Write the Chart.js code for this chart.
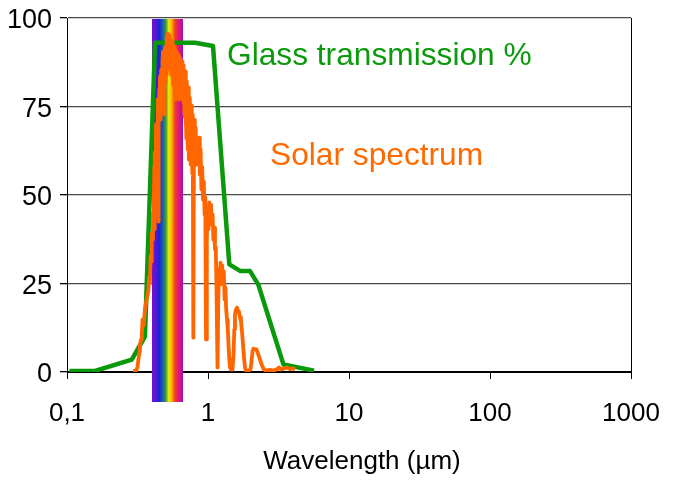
<!DOCTYPE html>
<html>
<head>
<meta charset="utf-8">
<script src="https://cdn.jsdelivr.net/npm/chart.js@4.4.1/dist/chart.umd.min.js"></script>
<style>
  html, body { margin: 0; padding: 0; background: #fff; }
  canvas { display: block; }
</style>
</head>
<body>
<canvas id="chart" width="674" height="484"></canvas>
<script>
// Axis ticks
const xTicks = [0.1, 1, 10, 100, 1000];
const yTicks = [0, 25, 50, 75, 100];

// Glass transmission (%) against wavelength (µm)
const glassWavelength = [0.104, 0.158, 0.288, 0.357, 0.421, 0.809, 1.085, 1.416, 1.700, 1.986, 2.274, 3.432, 5.65];
const glassTransmission = [0.3, 0.3, 3.5, 10.0, 93.0, 93.0, 92.1, 30.4, 28.5, 28.5, 24.7, 2.1, 0.4];

// Solar spectrum at ground level (relative units) against wavelength (µm)
const solarWavelength = [
  0.294, 0.309, 0.316, 0.321, 0.327, 0.329, 0.335, 0.339, 0.343, 0.349,
  0.357, 0.363, 0.367, 0.372, 0.377, 0.382, 0.387, 0.392, 0.396, 0.399,
  0.404, 0.407, 0.409, 0.412, 0.414, 0.416, 0.418, 0.420, 0.422, 0.424,
  0.426, 0.428, 0.431, 0.433, 0.436, 0.438, 0.441, 0.443, 0.446, 0.448,
  0.451, 0.454, 0.457, 0.459, 0.462, 0.464, 0.467, 0.470, 0.473, 0.476,
  0.480, 0.483, 0.486, 0.488, 0.491, 0.494, 0.496, 0.499, 0.502, 0.505,
  0.508, 0.511, 0.514, 0.517, 0.520, 0.523, 0.527, 0.530, 0.533, 0.536,
  0.539, 0.542, 0.545, 0.548, 0.552, 0.555, 0.558, 0.561, 0.565, 0.567,
  0.570, 0.574, 0.578, 0.580, 0.583, 0.586, 0.590, 0.593, 0.597, 0.601,
  0.605, 0.609, 0.613, 0.616, 0.619, 0.622, 0.626, 0.629, 0.633, 0.636,
  0.640, 0.644, 0.649, 0.652, 0.656, 0.660, 0.665, 0.669, 0.674, 0.678,
  0.682, 0.686, 0.690, 0.694, 0.698, 0.702, 0.707, 0.712, 0.717, 0.721,
  0.725, 0.729, 0.733, 0.738, 0.743, 0.747, 0.752, 0.756, 0.761, 0.765,
  0.770, 0.774, 0.779,
  0.787, 0.796, 0.806, 0.817, 0.827, 0.838, 0.852, 0.864, 0.875, 0.886,
  0.898, 0.910, 0.922, 0.934, 0.946, 0.957, 0.968, 0.981, 0.994, 1.008,
  1.022, 1.037, 1.050, 1.064, 1.078, 1.092, 1.107, 1.121, 1.136, 1.149,
  1.168, 1.183, 1.197, 1.213, 1.227, 1.243, 1.261, 1.278, 1.294, 1.311,
  1.329, 1.346, 1.364, 1.382, 1.398, 1.416, 1.432, 1.456, 1.492, 1.517,
  1.537, 1.554, 1.580, 1.606, 1.633, 1.659, 1.687, 1.714, 1.742, 1.771,
  1.800, 1.830, 1.860, 1.938, 2.002, 2.035, 2.069, 2.103, 2.154, 2.208,
  2.263, 2.338, 2.416, 2.496, 2.578, 2.753, 2.938, 3.087, 3.188, 3.294,
  3.459, 3.634, 3.816, 4.007, 4.140
];
const solarIntensity = [
  0.3, 0.3, 1.3, 3.5, 5.8, 7.5, 9.2, 10.3, 14.8, 13.1,
  17.7, 19.4, 20.5, 21.6, 22.7, 26.7, 25.0, 32.9, 31.2, 39.1,
  37.4, 45.0, 42.5, 52.0, 48.7, 58.0, 40.3, 62.0, 60.0, 52.0,
  55.8, 70.0, 68.5, 58.0, 64.3, 74.0, 77.0, 66.0, 42.5, 70.0,
  79.8, 76.0, 83.5, 74.0, 71.3, 82.0, 85.5, 76.0, 78.4, 88.0,
  90.5, 80.0, 84.0, 76.0, 72.7, 88.0, 91.7, 82.0, 87.7, 92.0,
  94.5, 84.0, 89.7, 93.0, 95.6, 86.0, 91.7, 88.0, 95.1, 90.0,
  85.5, 92.0, 93.9, 84.0, 90.5, 86.0, 93.4, 88.0, 81.2, 89.0,
  92.2, 84.0, 88.8, 82.0, 91.9, 85.0, 77.0, 86.0, 90.5, 82.0,
  87.1, 80.0, 89.7, 84.0, 77.5, 85.0, 88.8, 82.0, 77.0, 84.0,
  88.3, 80.0, 84.9, 78.0, 87.7, 79.0, 82.6, 76.0, 86.6, 74.0,
  79.8, 72.0, 84.9, 70.0, 74.2, 66.0, 82.1, 68.0, 62.9, 72.0,
  80.4, 66.0, 60.0, 70.0, 77.5, 64.0, 58.6, 68.0, 75.3, 62.0,
  62.9, 56.0, 72.7,
  9.7, 71.3, 61.4, 69.1, 58.6, 65.7, 60.0, 66.2, 55.8, 62.9,
  51.6, 57.8, 48.7, 53.8, 44.5, 49.3, 9.2, 37.4, 45.9, 40.3,
  47.9, 43.1, 47.3, 41.7, 44.5, 37.4, 40.8, 34.6, 35.2, 23.3,
  1.3, 20.5, 29.0, 24.7, 30.9, 27.5, 30.1, 24.7, 28.4, 20.5,
  23.9, 17.7, 14.8, 12.0, 7.8, 3.5, 1.3, 0.7, 0.7, 4.9,
  12.0, 16.2, 17.7, 18.2, 17.1, 16.8, 15.4, 14.3, 11.4, 7.8,
  4.1, 1.3, 0.4, 0.4, 0.7, 3.0, 5.8, 6.6, 6.4, 6.4,
  5.2, 3.5, 1.8, 0.7, 0.4, 0.6, 0.4, 0.8, 1.3, 0.7,
  1.0, 1.3, 0.8, 1.0, 0.7
];

// Visible light band (µm)
const visibleBand = [0.4, 0.66];

const FONT = "'Liberation Sans', Arial, Helvetica, sans-serif";
const GREEN = '#0a990a';
const ORANGE = '#ff6600';

const toPoints = (xs, ys) => xs.map((x, i) => ({ x: x, y: ys[i] }));

// Rainbow strip for the visible range, drawn behind the curves
const visibleBandPlugin = {
  id: 'visibleBand',
  beforeDatasetsDraw(chart, args, opts) {
    const { ctx, chartArea, scales } = chart;
    const x0 = Math.round(scales.x.getPixelForValue(visibleBand[0]));
    const x1 = Math.round(scales.x.getPixelForValue(visibleBand[1]));
    const top = chartArea.top + 1;
    const bottom = chartArea.bottom + opts.extendBelow;
    const g = ctx.createLinearGradient(x0, 0, x1, 0);
    [
      [0.00, '#7a10c8'], [0.12, '#5418d8'], [0.24, '#1a26d6'],
      [0.36, '#1a68a8'], [0.45, '#3c9c3c'], [0.54, '#eeee00'],
      [0.64, '#f8ac00'], [0.74, '#f04020'], [0.86, '#e0187a'],
      [1.00, '#a010b8']
    ].forEach(([p, c]) => g.addColorStop(p, c));
    ctx.save();
    ctx.fillStyle = g;
    ctx.fillRect(x0, top, x1 - x0, bottom - top);
    ctx.restore();
  }
};

// Right-hand frame edge of the plot
const frameEdgePlugin = {
  id: 'frameEdge',
  beforeDatasetsDraw(chart) {
    const { ctx, chartArea } = chart;
    ctx.save();
    ctx.strokeStyle = '#000';
    ctx.lineWidth = 1;
    ctx.beginPath();
    ctx.moveTo(Math.round(chartArea.right) + 0.5, chartArea.top);
    ctx.lineTo(Math.round(chartArea.right) + 0.5, chartArea.bottom + 1);
    ctx.stroke();
    ctx.restore();
  }
};

// Series names written inside the plot
const seriesNamePlugin = {
  id: 'seriesNames',
  afterDatasetsDraw(chart, args, opts) {
    const { ctx, scales } = chart;
    ctx.save();
    ctx.font = '31.7px ' + FONT;
    ctx.textAlign = 'left';
    ctx.textBaseline = 'alphabetic';
    opts.items.forEach(item => {
      ctx.fillStyle = item.color;
      ctx.fillText(item.text, scales.x.getPixelForValue(item.x), scales.y.getPixelForValue(item.y));
    });
    ctx.restore();
  }
};

// Horizontal axis title
const axisTitlePlugin = {
  id: 'axisTitle',
  afterDraw(chart, args, opts) {
    const { ctx, chartArea } = chart;
    ctx.save();
    ctx.font = '26px ' + FONT;
    ctx.fillStyle = '#000';
    ctx.textAlign = 'center';
    ctx.textBaseline = 'alphabetic';
    ctx.fillText(opts.text, (chartArea.left + chartArea.right) / 2 + opts.shiftX, chartArea.bottom + opts.offsetY);
    ctx.restore();
  }
};

new Chart(document.getElementById('chart'), {
  type: 'line',
  data: {
    datasets: [
      {
        label: 'Solar spectrum',
        data: toPoints(solarWavelength, solarIntensity),
        borderColor: ORANGE,
        borderWidth: 3.8,
        borderJoinStyle: 'round',
        pointRadius: 0,
        tension: 0,
        fill: false
      },
      {
        label: 'Glass transmission %',
        data: toPoints(glassWavelength, glassTransmission),
        borderColor: GREEN,
        borderWidth: 4.5,
        borderJoinStyle: 'round',
        pointRadius: 0,
        tension: 0,
        fill: false
      }
    ]
  },
  options: {
    responsive: false,
    animation: false,
    devicePixelRatio: 1,
    layout: { autoPadding: false, padding: { top: 18, right: 43, left: 0, bottom: 0 } },
    plugins: {
      legend: { display: false },
      tooltip: { enabled: false },
      visibleBand: { extendBelow: 30 },
      seriesNames: {
        items: [
          { text: 'Glass transmission %', x: 1.364, y: 86.6, color: '#0b9a0b' },
          { text: 'Solar spectrum', x: 2.753, y: 58.6, color: '#ff6a00' }
        ]
      },
      axisTitle: { text: 'Wavelength (µm)', shiftX: 13, offsetY: 97 }
    },
    scales: {
      x: {
        type: 'logarithmic',
        min: xTicks[0],
        max: xTicks[xTicks.length - 1],
        afterBuildTicks: s => { s.ticks = xTicks.map(v => ({ value: v })); },
        afterFit: s => {
          s.height = 112;
          s.paddingLeft = 0; s.paddingRight = 0; s.paddingTop = 0; s.paddingBottom = 0;
        },
        ticks: {
          autoSkip: false,
          maxRotation: 0,
          padding: 19,
          color: '#000',
          font: { family: FONT, size: 26 },
          callback: v => String(v).replace('.', ',')
        },
        grid: { drawOnChartArea: false, drawTicks: true, tickLength: 7, color: '#000', tickColor: '#000' },
        border: { color: '#000', width: 1 }
      },
      y: {
        type: 'linear',
        min: yTicks[0],
        max: yTicks[yTicks.length - 1],
        afterBuildTicks: s => { s.ticks = yTicks.map(v => ({ value: v })); },
        afterFit: s => {
          s.width = 67;
          s.paddingLeft = 0; s.paddingRight = 0; s.paddingTop = 0; s.paddingBottom = 0;
        },
        ticks: {
          padding: 8,
          labelOffset: 3,
          color: '#000',
          font: { family: FONT, size: 27 }
        },
        grid: {
          drawTicks: true,
          tickLength: 7,
          color: ctx => (ctx.tick && ctx.tick.value === 0 ? '#000' : '#4a4a4a'),
          tickColor: '#000',
          lineWidth: 1.3
        },
        border: { color: '#000', width: 1 }
      }
    }
  },
  plugins: [visibleBandPlugin, frameEdgePlugin, seriesNamePlugin, axisTitlePlugin]
});
</script>
</body>
</html>
